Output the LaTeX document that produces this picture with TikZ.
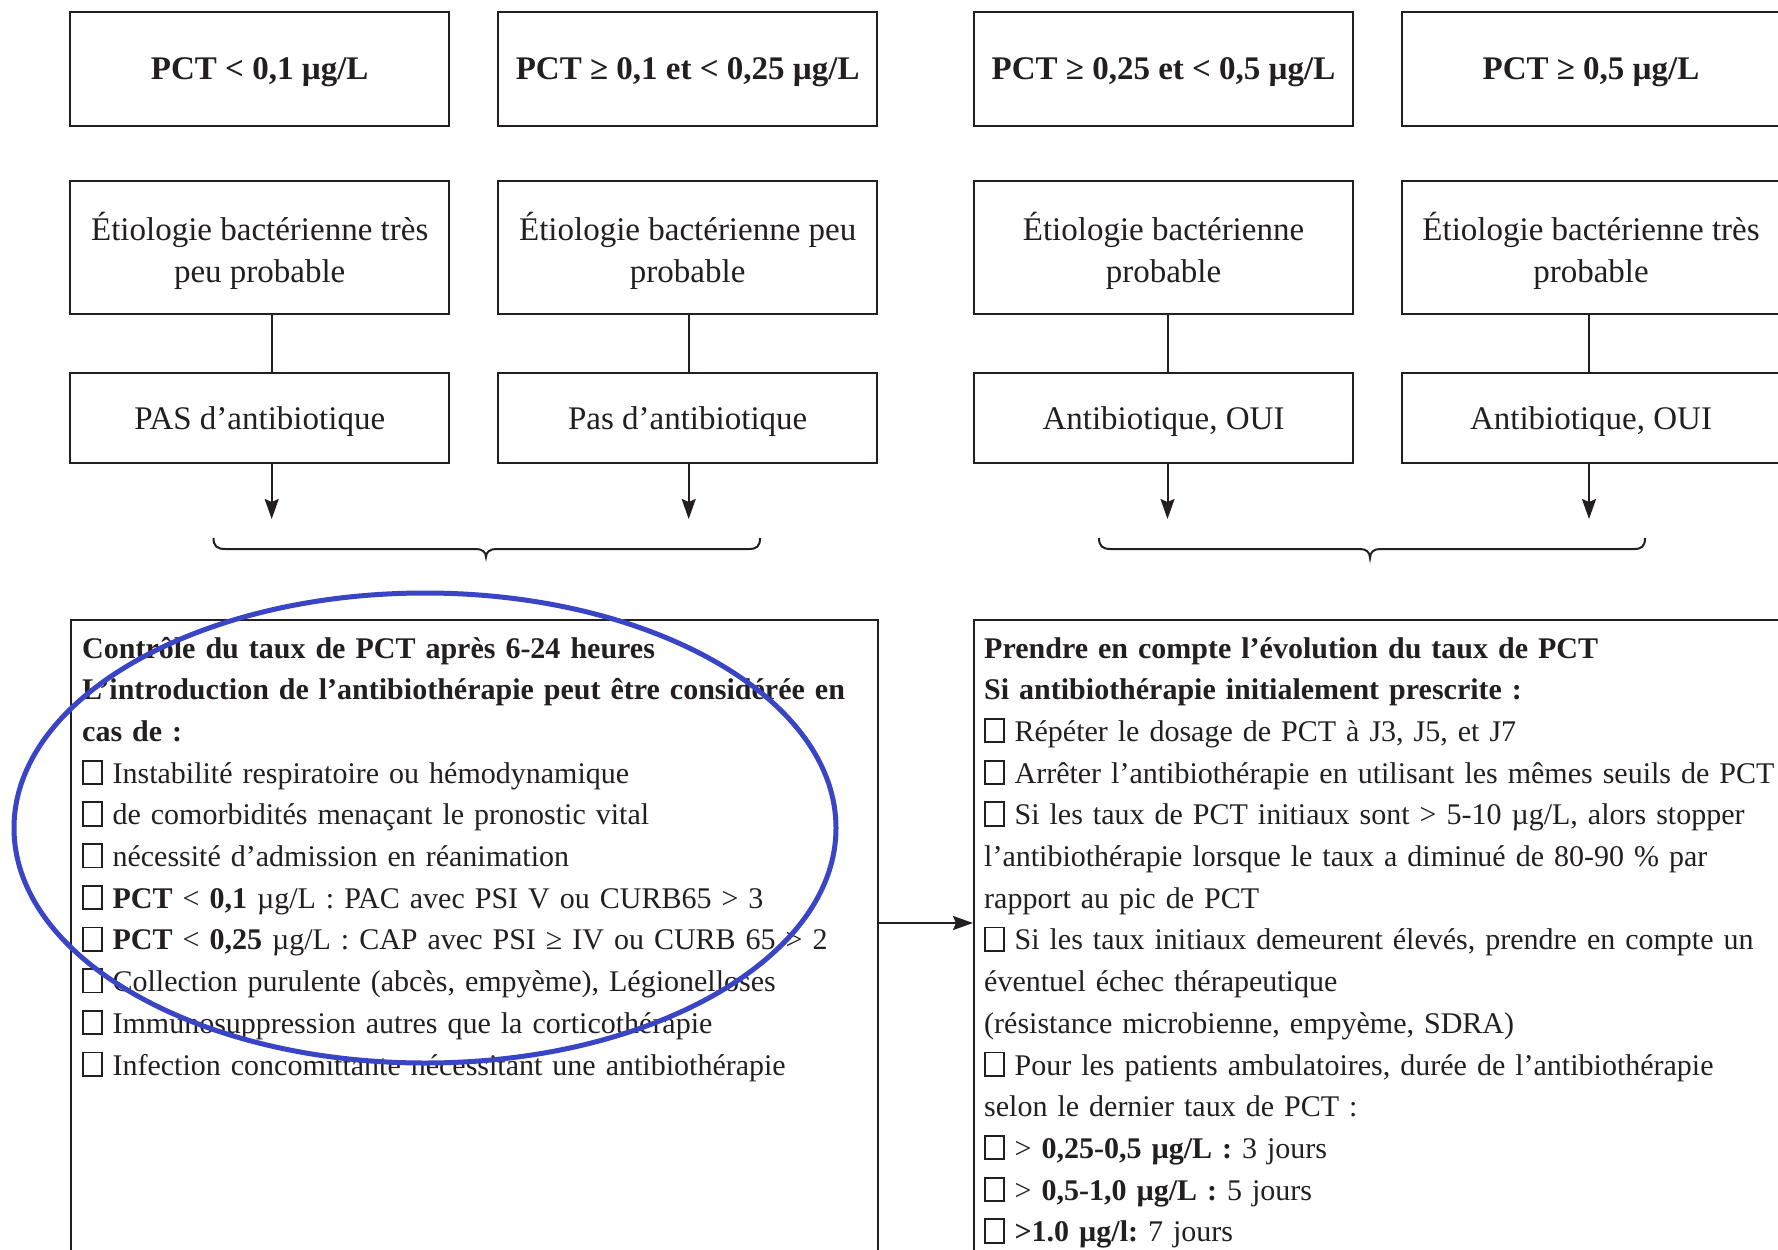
\documentclass[tikz,border=0pt]{standalone}
\usepackage{fontspec}
\setmainfont{Liberation Serif}
\usetikzlibrary{arrows.meta}
\frenchspacing
\definecolor{ink}{HTML}{231F20}
\definecolor{ellblue}{HTML}{3A45C6}
\newcommand\cbx{{\setlength{\fboxsep}{0pt}\setlength{\fboxrule}{1.8pt}\fbox{\rule{0pt}{0.72em}\hspace{0.56em}}}}
\tikzset{
  box/.style={draw=ink, line width=2pt, inner sep=0pt, align=center, text=ink, minimum width=379pt, text depth=-1.5pt},
  hdr/.style={box, minimum height=114.5pt, font=\fontsize{33}{42}\selectfont\bfseries},
  eti/.style={box, minimum height=133pt, font=\fontsize{33}{42}\selectfont},
  ab/.style={box, minimum height=90pt, font=\fontsize{33}{42}\selectfont},
  big/.style={draw=ink, line width=2pt, inner sep=0pt, anchor=north west},
  body/.style={anchor=base west, inner sep=0pt, text width=1000pt, align=left, text=ink, font=\fontsize{30}{41.7}\selectfont\frenchspacing},
  link/.style={draw=ink, line width=2pt},
  arr/.style={link, -{Stealth[length=20pt,width=14pt,inset=3pt]}},
  bracel/.style={draw=ink, line width=2pt},
  ring/.style={draw=ellblue, line width=5pt},
}
\begin{document}
\begin{tikzpicture}[x=1pt, y=-1pt]
\useasboundingbox (0,0) rectangle (1778,1250);
\clip (0,0) rectangle (1778,1250);
\fill[white] (0,0) rectangle (1778,1250);
% row 1
\node[hdr] (h1) at (259.7,68.75) {PCT < 0,1 µg/L};
\node[hdr] (h2) at (687.7,68.75) {PCT ≥ 0,1 et < 0,25 µg/L};
\node[hdr] (h3) at (1163.5,68.75) {PCT ≥ 0,25 et < 0,5 µg/L};
\node[hdr] (h4) at (1591,68.75) {PCT ≥ 0,5 µg/L};
% row 2
\node[eti] (e1) at (259.7,247.5) {Étiologie bactérienne très\\peu probable};
\node[eti] (e2) at (687.7,247.5) {Étiologie bactérienne peu\\probable};
\node[eti] (e3) at (1163.5,247.5) {Étiologie bactérienne\\probable};
\node[eti] (e4) at (1591,247.5) {Étiologie bactérienne très\\probable};
% row 3
\node[ab] (p1) at (259.7,417.7) {PAS d’antibiotique};
\node[ab] (p2) at (687.7,417.7) {Pas d’antibiotique};
\node[ab] (p3) at (1163.5,417.7) {Antibiotique, OUI};
\node[ab] (p4) at (1591,417.7) {Antibiotique, OUI};
% links row 2 -> row 3
\draw[link] ([xshift=12pt]e1.south) -- ([xshift=12pt]p1.north);
\draw[link] ([xshift=1pt]e2.south) -- ([xshift=1pt]p2.north);
\draw[link] ([xshift=4pt]e3.south) -- ([xshift=4pt]p3.north);
\draw[link] ([xshift=-2pt]e4.south) -- ([xshift=-2pt]p4.north);
% arrows down
\coordinate (a1) at (271.7,519);
\coordinate (a2) at (688.7,519);
\coordinate (a3) at (1167.5,519);
\coordinate (a4) at (1589,519);
\draw[arr] (p1.south -| a1) -- (a1);
\draw[arr] (p2.south -| a2) -- (a2);
\draw[arr] (p3.south -| a3) -- (a3);
\draw[arr] (p4.south -| a4) -- (a4);
% braces
\draw[bracel] (213.5,538) .. controls (213.5,546) and (217,549) .. (225,549) -- (476,549)
  .. controls (482,549) and (486,552) .. (486,557) .. controls (486,552) and (490,549) .. (496,549)
  -- (749,549) .. controls (757,549) and (760,546) .. (760,538);
\draw[bracel] (1099,538) .. controls (1099,546) and (1102.5,549) .. (1110.5,549) -- (1360,549)
  .. controls (1366,549) and (1370,552) .. (1370,558) .. controls (1370,552) and (1374,549) .. (1380,549)
  -- (1634,549) .. controls (1642,549) and (1645,546) .. (1645,538);
% bottom boxes
\node[big, minimum width=807pt, minimum height=650pt] (L) at (70,619) {};
\node[big, minimum width=830pt, minimum height=650pt] (R) at (973,619) {};
\coordinate (hy) at (920,923);
\draw[arr] (L.east |- hy) -- (R.west |- hy);
\node[body] (Lt) at (82,658) {\textbf{Contrôle du taux de PCT après 6-24 heures}\\
\textbf{L’introduction de l’antibiothérapie peut être considérée en}\\
\textbf{cas de :}\\
\cbx\ Instabilité respiratoire ou hémodynamique\\
\cbx\ de comorbidités menaçant le pronostic vital\\
\cbx\ nécessité d’admission en réanimation\\
\cbx\ \textbf{PCT} < \textbf{0,1} µg/L : PAC avec PSI V ou CURB65 > 3\\
\cbx\ \textbf{PCT} < \textbf{0,25} µg/L : CAP avec PSI ≥ IV ou CURB 65 > 2\\
\cbx\ Collection purulente (abcès, empyème), Légionelloses\\
\cbx\ Immunosuppression autres que la corticothérapie\\
\cbx\ Infection concomittante nécessitant une antibiothérapie};
\node[body] (Rt) at (984,658) {\textbf{Prendre en compte l’évolution du taux de PCT}\\
\textbf{Si antibiothérapie initialement prescrite :}\\
\cbx\ Répéter le dosage de PCT à J3, J5, et J7\\
\cbx\ Arrêter l’antibiothérapie en utilisant les mêmes seuils de PCT\\
\cbx\ Si les taux de PCT initiaux sont > 5-10 µg/L, alors stopper\\
l’antibiothérapie lorsque le taux a diminué de 80-90 \% par\\
rapport au pic de PCT\\
\cbx\ Si les taux initiaux demeurent élevés, prendre en compte un\\
éventuel échec thérapeutique\\
(résistance microbienne, empyème, SDRA)\\
\cbx\ Pour les patients ambulatoires, durée de l’antibiothérapie\\
selon le dernier taux de PCT :\\
\cbx\ > \textbf{0,25-0,5 µg/L :} 3 jours\\
\cbx\ > \textbf{0,5-1,0 µg/L :} 5 jours\\
\cbx\ \textbf{>1.0 µg/l:} 7 jours};
% blue ellipse
\draw[ring] (425,828) ellipse [x radius=411pt, y radius=235pt];
\end{tikzpicture}
\end{document}
